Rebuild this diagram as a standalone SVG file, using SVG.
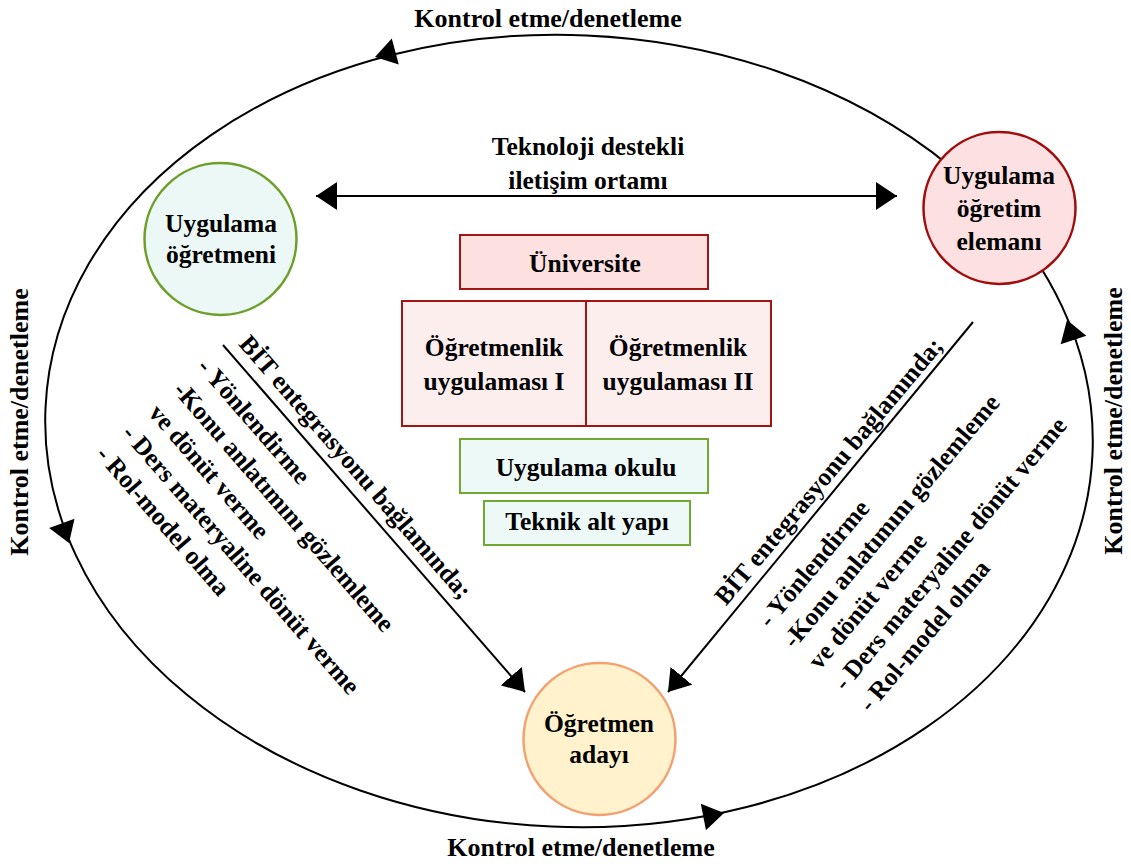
<svg xmlns="http://www.w3.org/2000/svg" xmlns:xlink="http://www.w3.org/1999/xlink" width="1131" height="864" viewBox="0 0 1131 864">
<style>
  text { font-family: "Liberation Serif", "Times New Roman", serif; font-weight: bold; font-size: 25.5px; fill: #000; }
  .c { text-anchor: middle; }
  .k { font-size: 26px; text-anchor: middle; }
  .line { stroke: #000; stroke-width: 2; fill: none; }
  .red { fill: #fde0e0; stroke: #a31515; stroke-width: 2; }
  .redl { fill: #fdeeee; stroke: #a31515; stroke-width: 2; }
  .grn { fill: #ecf9f6; stroke: #70a830; stroke-width: 2; }
</style>
<defs>
  <path id="ah" d="M0,0 L-21,-13.5 L-21,13.5 Z" fill="#000"/>
  <marker id="arr" markerUnits="userSpaceOnUse" markerWidth="22" markerHeight="28" viewBox="0 0 22 28" refX="21" refY="14" orient="auto-start-reverse">
    <path d="M0,0 L21,14 L0,28 Z" fill="#000"/>
  </marker>
</defs>
<rect width="1131" height="864" fill="#fff"/>

<g id="connectors">
  <ellipse class="line" cx="569" cy="431" rx="524" ry="396" transform="rotate(2.5 569 431)"/>
  <use xlink:href="#ah" href="#ah" transform="translate(375,57) rotate(165)"/>
  <use xlink:href="#ah" href="#ah" transform="translate(69,543) rotate(70)"/>
  <use xlink:href="#ah" href="#ah" transform="translate(724,813) rotate(-11)"/>
  <use xlink:href="#ah" href="#ah" transform="translate(1067,320) rotate(-108)"/>
  <line class="line" x1="316" y1="196" x2="897" y2="196" marker-start="url(#arr)" marker-end="url(#arr)"/>
  <line class="line" x1="223" y1="345" x2="525" y2="692" marker-end="url(#arr)"/>
  <line class="line" x1="973" y1="322" x2="668" y2="692" marker-end="url(#arr)"/>
</g>

<g id="labels">
  <text class="k" x="548" y="27">Kontrol etme/denetleme</text>
  <text class="k" x="581" y="856">Kontrol etme/denetleme</text>
  <text class="k" transform="translate(28,422) rotate(-90)">Kontrol etme/denetleme</text>
  <text class="k" transform="translate(1122,421) rotate(-90)">Kontrol etme/denetleme</text>
  <text class="c" x="588" y="155">Teknoloji destekli</text>
  <text class="c" x="588" y="189">iletişim ortamı</text>
</g>

<g id="left-notes" transform="rotate(49)">
  <text x="416" y="46.5">BİT entegrasyonu bağlamında;</text>
  <text x="406" y="93">- Yönlendirme</text>
  <text x="408" y="126.5">-Konu anlatımını gözlemleme</text>
  <text x="409" y="160">ve dönüt verme</text>
  <text x="407" y="193.5">- Ders materyaline dönüt verme</text>
  <text x="406" y="227">- Rol-model olma</text>
</g>

<g id="right-notes" transform="rotate(-50)">
  <text x="2" y="946">BİT entegrasyonu bağlamında;</text>
  <text x="13" y="994">- Yönlendirme</text>
  <text x="13" y="1026">-Konu anlatımını gözlemleme</text>
  <text x="13" y="1059">ve dönüt verme</text>
  <text x="13" y="1092">- Ders materyaline dönüt verme</text>
  <text x="13" y="1125">- Rol-model olma</text>
</g>

<g id="uygulama-ogretmeni">
  <circle cx="220.5" cy="239" r="76" fill="#ebf8f5" stroke="#6e9f2a" stroke-width="2.5"/>
  <text class="c" x="221" y="232">Uygulama</text>
  <text class="c" x="221" y="263">öğretmeni</text>
</g>

<g id="uygulama-ogretim-elemani">
  <circle cx="999.5" cy="208" r="76" fill="#fde0e1" stroke="#a00d0d" stroke-width="2.5"/>
  <text class="c" x="999" y="184">Uygulama</text>
  <text class="c" x="999" y="217">öğretim</text>
  <text class="c" x="999" y="250">elemanı</text>
</g>

<g id="ogretmen-adayi">
  <circle cx="599.5" cy="739" r="76" fill="#fff2cc" stroke="#f4a172" stroke-width="2.5"/>
  <text class="c" x="599" y="732">Öğretmen</text>
  <text class="c" x="599" y="763">adayı</text>
</g>

<g id="universite">
  <rect class="red" x="460" y="235" width="248" height="54"/>
  <text class="c" x="585" y="272">Üniversite</text>
</g>

<g id="ogretmenlik-1">
  <rect class="redl" x="402" y="301" width="184" height="125"/>
  <text class="c" x="494" y="356">Öğretmenlik</text>
  <text class="c" x="494" y="390">uygulaması I</text>
</g>

<g id="ogretmenlik-2">
  <rect class="redl" x="586" y="301" width="185" height="125"/>
  <text class="c" x="678" y="356">Öğretmenlik</text>
  <text class="c" x="678" y="390">uygulaması II</text>
</g>

<g id="uygulama-okulu">
  <rect class="grn" x="460" y="439" width="248" height="54"/>
  <text class="c" x="586" y="476">Uygulama okulu</text>
</g>

<g id="teknik-alt-yapi">
  <rect class="grn" x="484" y="501" width="206" height="44"/>
  <text class="c" x="587" y="530">Teknik alt yapı</text>
</g>
</svg>
